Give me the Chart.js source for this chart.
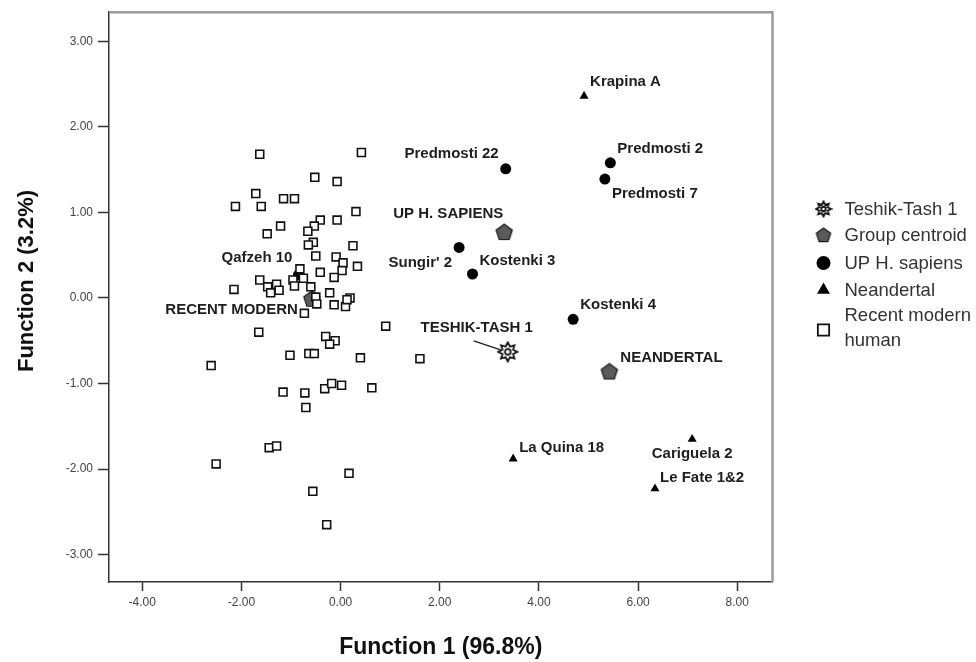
<!DOCTYPE html>
<html>
<head>
<meta charset="utf-8">
<script src="https://cdn.jsdelivr.net/npm/chart.js@4.4.1/dist/chart.umd.min.js"></script>
<style>
    html, body { margin: 0; padding: 0; background: #fff; }
    #wrap { width: 976px; height: 662px; }
</style>
</head>
<body>
<div id="wrap"><canvas id="chart" width="976" height="662"></canvas></div>
<script>
// Discriminant function scores (Function 1, Function 2)
const recentX = [-1.63, 0.42, -0.52, -0.07, -1.71, -1.15, -0.93, -2.12, -1.60, 0.31,
    -0.41, -0.07, -0.53, -1.21, -0.66, -1.48, -0.55, -0.65, 0.25, -0.50,
    -0.09, 0.05, 0.34, 0.03, -0.82, -0.41, -0.13, -1.63, -1.29, -1.47,
    -0.96, -0.93, -0.75, -0.60, -1.24, -1.41, -0.22, -2.15, 0.19, -0.50,
    -0.48, -0.13, 0.10, -0.73, 0.91, -1.65, -0.30, -0.11, -0.22, -1.02,
    -0.64, -0.53, 0.40, -2.61, -1.16, -0.72, -0.32, -0.18, 0.02, 0.63,
    -0.70, -1.44, -1.29, -2.51, 0.17, -0.56, -0.28, 1.60, 0.13];
const recentY = [1.68, 1.70, 1.41, 1.36, 1.22, 1.16, 1.16, 1.07, 1.07, 1.01,
    0.91, 0.91, 0.84, 0.84, 0.78, 0.75, 0.65, 0.62, 0.61, 0.49,
    0.48, 0.41, 0.37, 0.32, 0.34, 0.30, 0.24, 0.21, 0.16, 0.13,
    0.21, 0.14, 0.23, 0.13, 0.09, 0.06, 0.06, 0.10, 0.00, 0.01,
    -0.07, -0.08, -0.10, -0.18, -0.33, -0.40, -0.45, -0.50, -0.54, -0.67,
    -0.65, -0.65, -0.70, -0.79, -1.10, -1.11, -1.06, -1.00, -1.02, -1.05,
    -1.28, -1.75, -1.73, -1.94, -2.05, -2.26, -2.65, -0.71, -0.02];

const upNames = ['Predmosti 22', 'Predmosti 2', 'Predmosti 7', "Sungir' 2", 'Kostenki 3', 'Kostenki 4', 'Qafzeh 10'];
const upX = [3.33, 5.44, 5.33, 2.39, 2.66, 4.69, -0.85];
const upY = [1.51, 1.58, 1.39, 0.59, 0.28, -0.25, 0.27];

const neaNames = ['Krapina A', 'La Quina 18', 'Cariguela 2', 'Le Fate 1&2'];
const neaX = [4.91, 3.48, 7.09, 6.34];
const neaY = [2.36, -1.88, -1.65, -2.23];

const centroidNames = ['UP H. SAPIENS', 'NEANDERTAL', 'RECENT MODERN'];
const centroidX = [3.30, 5.42, -0.58];
const centroidY = [0.77, -0.86, -0.01];

const teshikNames = ['TESHIK-TASH 1'];
const teshikX = [3.37];
const teshikY = [-0.63];

const xTicks = [-4, -2, 0, 2, 4, 6, 8];
const yTicks = [-3, -2, -1, 0, 1, 2, 3];

const yTitle = 'Function 2 (3.2%)';
const legendLabels = ['Teshik-Tash 1', 'Group centroid', 'UP H. sapiens', 'Neandertal', ['Recent modern', 'human']];

// label placement next to its point: dx, dy in pixels, text alignment
const labelPos = {
    'Predmosti 22': [-7, -15, 'right'],
    'Predmosti 2': [7, -14, 'left'],
    'Predmosti 7': [7, 15, 'left'],
    "Sungir' 2": [-7, 15, 'right'],
    'Kostenki 3': [7, -13, 'left'],
    'Kostenki 4': [7, -14, 'left'],
    'Qafzeh 10': [-6, -17, 'right'],
    'Krapina A': [6, -14, 'left'],
    'La Quina 18': [6, -11, 'left'],
    'Cariguela 2': [0, 15, 'center'],
    'Le Fate 1&2': [5, -11, 'left'],
    'UP H. SAPIENS': [-1, -18, 'right'],
    'NEANDERTAL': [11, -14, 'left'],
    'RECENT MODERN': [-14, 11, 'right'],
    'TESHIK-TASH 1': [-31, -24, 'center']
};

const FONT = '"Liberation Sans", Arial, sans-serif';

function toPoints(xs, ys) {
    return xs.map((x, i) => ({ x: x, y: ys[i] }));
}

// pentagon marker for group centroids
function makePentagon(size, r) {
    const c = document.createElement('canvas');
    c.width = c.height = size;
    const g = c.getContext('2d');
    g.beginPath();
    for (let i = 0; i < 5; i++) {
        const a = -Math.PI / 2 + i * 2 * Math.PI / 5;
        const px = size / 2 + Math.cos(a) * r;
        const py = size / 2 + 0.6 + Math.sin(a) * r;
        if (i === 0) g.moveTo(px, py); else g.lineTo(px, py);
    }
    g.closePath();
    g.fillStyle = '#5a5a5a';
    g.fill();
    g.lineWidth = 1.2;
    g.strokeStyle = '#1a1a1a';
    g.stroke();
    return c;
}

// sun-like star for Teshik-Tash 1
function makeStar(size, outer) {
    const c = document.createElement('canvas');
    c.width = c.height = size;
    const g = c.getContext('2d');
    const inner = outer * 0.6;
    g.beginPath();
    for (let i = 0; i < 16; i++) {
        const r = i % 2 ? inner : outer;
        const a = -Math.PI / 2 + i * Math.PI / 8;
        const px = size / 2 + Math.cos(a) * r;
        const py = size / 2 + Math.sin(a) * r;
        if (i === 0) g.moveTo(px, py); else g.lineTo(px, py);
    }
    g.closePath();
    g.fillStyle = '#fff';
    g.fill();
    g.lineWidth = 1.8;
    g.strokeStyle = '#111';
    g.stroke();
    g.beginPath();
    g.arc(size / 2, size / 2, outer * 0.3, 0, Math.PI * 2);
    g.stroke();
    return c;
}

const pentagonImg = makePentagon(20, 8.5);
const starImg = makeStar(22, 9.5);
const pentagonLegend = makePentagon(18, 7.5);
const starLegend = makeStar(18, 7.5);

// labels, frame, y title and legend drawn on top of the plot
const annotatePlugin = {
    id: 'annotate',
    afterDraw(chart) {
        const ctx = chart.ctx;
        const area = chart.chartArea;

        // light frame on top and right
        ctx.save();
        ctx.strokeStyle = '#9a9a9a';
        ctx.lineWidth = 2.5;
        ctx.beginPath();
        ctx.moveTo(area.left, area.top);
        ctx.lineTo(area.right, area.top);
        ctx.lineTo(area.right, area.bottom);
        ctx.stroke();
        ctx.restore();

        // y axis title
        ctx.save();
        ctx.translate(27, 281);
        ctx.rotate(-Math.PI / 2);
        ctx.font = 'bold 22px ' + FONT;
        ctx.fillStyle = '#111';
        ctx.textAlign = 'center';
        ctx.textBaseline = 'middle';
        ctx.fillText(yTitle, 0, 0);
        ctx.restore();

        // point labels
        ctx.save();
        ctx.font = 'bold 15px ' + FONT;
        ctx.fillStyle = '#1e1e1e';
        ctx.textBaseline = 'middle';
        chart.data.datasets.forEach((ds, di) => {
            const names = ds.names;
            if (!names) return;
            const meta = chart.getDatasetMeta(di);
            meta.data.forEach((pt, i) => {
                const pos = labelPos[names[i]];
                if (!pos) return;
                ctx.textAlign = pos[2];
                ctx.fillText(names[i], pt.x + pos[0], pt.y + pos[1]);
            });
        });

        // pointer line to Teshik-Tash 1
        const tt = chart.getDatasetMeta(4).data[0];
        ctx.strokeStyle = '#222';
        ctx.lineWidth = 1.5;
        ctx.beginPath();
        ctx.moveTo(tt.x - 34, tt.y - 11);
        ctx.lineTo(tt.x - 7, tt.y - 2);
        ctx.stroke();
        ctx.restore();

        // legend
        ctx.save();
        const ix = area.right + 51;
        const tx = area.right + 72;
        const rows = [209, 235, 263, 290, 330];
        const helpers = Chart.helpers;
        ctx.fillStyle = '#111';
        ctx.strokeStyle = '#111';
        helpers.drawPoint(ctx, { pointStyle: starLegend, radius: 8, borderWidth: 0, rotation: 0 }, ix, rows[0]);
        helpers.drawPoint(ctx, { pointStyle: pentagonLegend, radius: 8, borderWidth: 0, rotation: 0 }, ix, rows[1]);
        ctx.fillStyle = '#000';
        helpers.drawPoint(ctx, { pointStyle: 'circle', radius: 7, borderWidth: 0, rotation: 0 }, ix, rows[2]);
        helpers.drawPoint(ctx, { pointStyle: 'triangle', radius: 7.5, borderWidth: 0, rotation: 0 }, ix, rows[3]);
        ctx.fillStyle = '#fff';
        ctx.lineWidth = 1.8;
        helpers.drawPoint(ctx, { pointStyle: 'rect', radius: 8, borderWidth: 1.8, rotation: 0 }, ix, rows[4]);

        ctx.font = '18.5px ' + FONT;
        ctx.fillStyle = '#333';
        ctx.textAlign = 'left';
        ctx.textBaseline = 'middle';
        legendLabels.forEach((lab, i) => {
            if (Array.isArray(lab)) {
                ctx.fillText(lab[0], tx, 316);
                ctx.fillText(lab[1], tx, 341);
            } else {
                ctx.fillText(lab, tx, rows[i] + 1);
            }
        });
        ctx.restore();
    }
};

const ctx = document.getElementById('chart').getContext('2d');
const chart = new Chart(ctx, {
    type: 'scatter',
    data: {
        datasets: [
            {
                label: 'Recent modern human',
                data: toPoints(recentX, recentY),
                pointStyle: 'rect',
                pointRadius: 5.6,
                pointBorderWidth: 1.6,
                pointBorderColor: '#111',
                pointBackgroundColor: '#fff'
            },
            {
                label: 'UP H. sapiens',
                names: upNames,
                data: toPoints(upX, upY),
                pointStyle: 'circle',
                pointRadius: 5.5,
                pointBorderWidth: 0,
                pointBackgroundColor: '#000'
            },
            {
                label: 'Neandertal',
                names: neaNames,
                data: toPoints(neaX, neaY),
                pointStyle: 'triangle',
                pointRadius: 5.2,
                pointBorderWidth: 0,
                pointBackgroundColor: '#000'
            },
            {
                label: 'Group centroid',
                names: centroidNames,
                data: toPoints(centroidX, centroidY),
                pointStyle: pentagonImg,
                pointRadius: 9
            },
            {
                label: 'Teshik-Tash 1',
                names: teshikNames,
                data: toPoints(teshikX, teshikY),
                pointStyle: starImg,
                pointRadius: 9
            }
        ]
    },
    options: {
        responsive: false,
        animation: false,
        devicePixelRatio: 1,
        layout: {
            padding: { left: 0, right: 203.5, top: 5, bottom: 0 }
        },
        plugins: {
            legend: { display: false },
            tooltip: { enabled: false }
        },
        scales: {
            x: {
                type: 'linear',
                min: -4.67,
                max: 8.71,
                afterBuildTicks: s => { s.ticks = xTicks.map(v => ({ value: v })); },
                afterFit: s => { s.height = 80; },
                ticks: {
                    callback: v => v.toFixed(2),
                    color: '#444',
                    font: { family: FONT, size: 12 },
                    padding: 4,
                    maxRotation: 0,
                    autoSkip: false
                },
                grid: { drawOnChartArea: false, drawTicks: true, tickLength: 9, tickColor: '#333', tickWidth: 1.5 },
                border: { color: '#333', width: 1.5 },
                title: {
                    display: true,
                    text: 'Function 1 (96.8%)',
                    color: '#111',
                    font: { family: FONT, size: 23, weight: 'bold' },
                    padding: { top: 0, bottom: 1 }
                }
            },
            y: {
                type: 'linear',
                min: -3.32,
                max: 3.34,
                afterBuildTicks: s => { s.ticks = yTicks.map(v => ({ value: v })); },
                afterFit: s => { s.width = 109; },
                ticks: {
                    callback: v => v.toFixed(2),
                    color: '#444',
                    font: { family: FONT, size: 12 },
                    padding: 5,
                    autoSkip: false
                },
                grid: { drawOnChartArea: false, drawTicks: true, tickLength: 11, tickColor: '#333', tickWidth: 1.5 },
                border: { color: '#333', width: 1.5 },
                title: { display: false }
            }
        }
    },
    plugins: [annotatePlugin]
});
</script>
</body>
</html>
